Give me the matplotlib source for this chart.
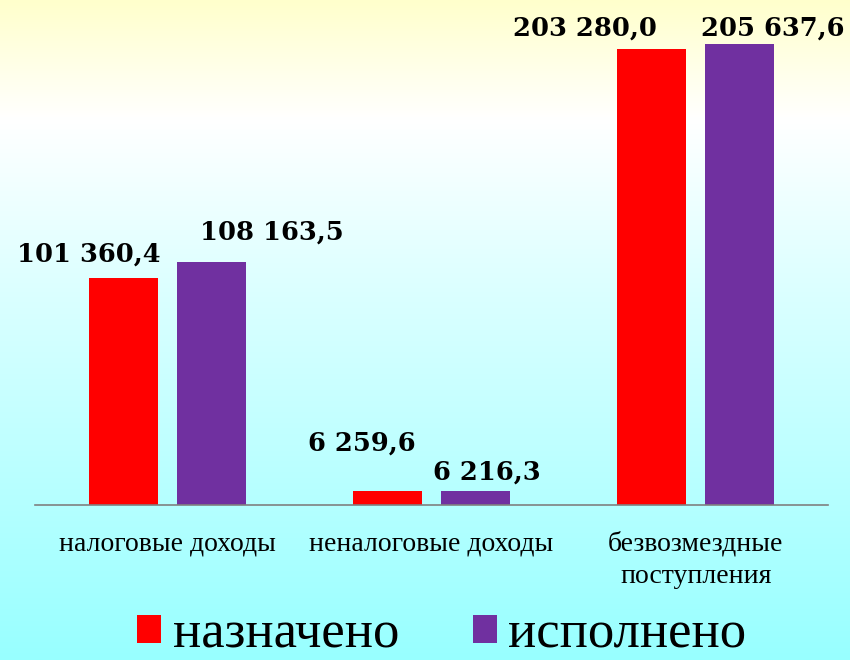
import numpy as np
import matplotlib
matplotlib.use("Agg")
import matplotlib.pyplot as plt
from matplotlib.colors import LinearSegmentedColormap

categories = ["налоговые доходы", "неналоговые доходы", "безвозмездные\nпоступления"]
planned = [101360.4, 6259.6, 203280.0]
executed = [108163.5, 6216.3, 205637.6]
series_names = ["назначено", "исполнено"]

# hand-placed value label offsets (pixels from bar top centre), as in the original slide
planned_offsets = [(-34, 24), (-26, 48), (-67, 21)]
executed_offsets = [(61, 30), (11, 19), (33, 16)]


def fmt(v):
    s = f"{v:,.1f}"
    return s.replace(",", " ").replace(".", ",")


fig = plt.figure(figsize=(8.5, 6.6), dpi=100)

# background gradient: pale yellow -> white -> cyan
bg = fig.add_axes([0, 0, 1, 1], zorder=0)
cmap = LinearSegmentedColormap.from_list(
    "bg", [(0.0, "#FFFFCC"), (0.18, "#FFFFFF"), (0.45, "#DAFFFF"), (1.0, "#98FFFF")])
grad = np.linspace(0, 1, 256).reshape(-1, 1)
bg.imshow(grad, aspect="auto", cmap=cmap, extent=[0, 1, 0, 1], origin="upper")
bg.axis("off")

ax = fig.add_axes([35 / 850, 155 / 660, 793 / 850, 485 / 660], zorder=1)
ax.patch.set_alpha(0)

x = np.arange(len(categories))
w = 0.261
off = 0.1667
b1 = ax.bar(x - off, planned, w, color="#FF0000", label=series_names[0], zorder=2)
b2 = ax.bar(x + off, executed, w, color="#7030A0", label=series_names[1], zorder=2)

for bars, vals, offs in [(b1, planned, planned_offsets), (b2, executed, executed_offsets)]:
    for rect, v, (dx, dy) in zip(bars, vals, offs):
        ax.annotate(fmt(v), (rect.get_x() + rect.get_width() / 2, rect.get_height()),
                    xytext=(dx, dy), textcoords="offset pixels",
                    ha="center", va="center", fontsize=18.5, fontweight="bold",
                    family="DejaVu Serif", color="black", annotation_clip=False)

ax.set_xlim(-0.5, 2.5)
ax.set_ylim(0, 216300)
for s in ["top", "right", "left"]:
    ax.spines[s].set_visible(False)
ax.spines["bottom"].set_color("#808080")
ax.spines["bottom"].set_linewidth(1.2)
ax.set_yticks([])
ax.set_xticks(x)
ax.set_xticklabels(categories, family="Liberation Serif", fontsize=20)
ax.tick_params(axis="x", length=0, pad=19)
for lbl in ax.get_xticklabels():
    lbl.set_linespacing(1.35)

fig.legend(handles=[b1, b2], labels=series_names, loc="center",
           bbox_to_anchor=(442 / 850, 25 / 660), ncol=2, frameon=False,
           prop={"family": "Liberation Serif", "size": 38},
           handlelength=0.45, handleheight=0.45, handletextpad=0.22,
           columnspacing=1.4)

fig.savefig("out.png", dpi=100)
